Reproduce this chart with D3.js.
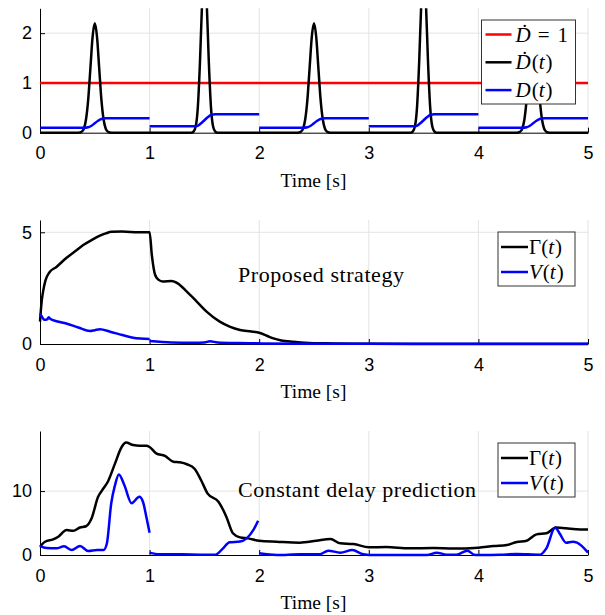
<!DOCTYPE html>
<html>
<head>
<meta charset="utf-8">
<script src="https://cdn.jsdelivr.net/npm/d3@7"></script>
<style>
body { margin: 0; background: #fff; }
.tick text { font-family: "Liberation Sans", Arial, sans-serif; font-size: 18px; fill: #000; }
.serif { font-family: "Liberation Serif", "Times New Roman", serif; fill: #000; }
</style>
</head>
<body>
<svg id="chart" width="605" height="615"></svg>
<script>
// tick values
var timeTicks = [0, 1, 2, 3, 4, 5];
var topYTicks = [0, 1, 2];
var midYTicks = [0, 5];
var botYTicks = [0, 10];

// top panel: constant rate, delay rate and delay
var dDotConst = [[0, 1], [5, 1]];
var dDot = [
  [0, 0], [0.35, 0], [0.38, 0.02], [0.40, 0.08], [0.42, 0.27], [0.44, 0.67], [0.46, 1.30], [0.48, 1.93],
  [0.50, 2.2], [0.52, 1.93], [0.54, 1.30], [0.56, 0.67], [0.58, 0.27], [0.60, 0.08], [0.62, 0.02], [0.65, 0],
  [1.38, 0], [1.40, 0.02], [1.42, 0.12], [1.44, 0.51], [1.46, 1.44], [1.48, 2.68],
  [1.50, 3.3], [1.52, 2.68], [1.54, 1.44], [1.56, 0.51], [1.58, 0.12], [1.60, 0.02], [1.62, 0],
  [2.35, 0], [2.38, 0.02], [2.40, 0.08], [2.42, 0.27], [2.44, 0.67], [2.46, 1.30], [2.48, 1.93],
  [2.50, 2.2], [2.52, 1.93], [2.54, 1.30], [2.56, 0.67], [2.58, 0.27], [2.60, 0.08], [2.62, 0.02], [2.65, 0],
  [3.38, 0], [3.40, 0.02], [3.42, 0.12], [3.44, 0.51], [3.46, 1.44], [3.48, 2.68],
  [3.50, 3.3], [3.52, 2.68], [3.54, 1.44], [3.56, 0.51], [3.58, 0.12], [3.60, 0.02], [3.62, 0],
  [4.35, 0], [4.38, 0.02], [4.40, 0.08], [4.42, 0.27], [4.44, 0.67], [4.46, 1.30], [4.48, 1.93],
  [4.50, 2.2], [4.52, 1.93], [4.54, 1.30], [4.56, 0.67], [4.58, 0.27], [4.60, 0.08], [4.62, 0.02], [4.65, 0],
  [5, 0]
];
var delaySegments = [
  [[0, 0.1], [0.4, 0.1], [0.44, 0.11], [0.47, 0.14], [0.5, 0.19], [0.53, 0.24], [0.56, 0.275], [0.6, 0.29], [1, 0.29]],
  [[1, 0.128], [1.4, 0.128], [1.44, 0.14], [1.47, 0.19], [1.5, 0.25], [1.53, 0.31], [1.56, 0.355], [1.6, 0.372], [2, 0.372]],
  [[2, 0.1], [2.4, 0.1], [2.44, 0.11], [2.47, 0.14], [2.5, 0.19], [2.53, 0.24], [2.56, 0.275], [2.6, 0.29], [3, 0.29]],
  [[3, 0.128], [3.4, 0.128], [3.44, 0.14], [3.47, 0.19], [3.5, 0.25], [3.53, 0.31], [3.56, 0.355], [3.6, 0.372], [4, 0.372]],
  [[4, 0.1], [4.4, 0.1], [4.44, 0.11], [4.47, 0.14], [4.5, 0.19], [4.53, 0.24], [4.56, 0.275], [4.6, 0.29], [5, 0.29]]
];

// middle panel: proposed strategy
var gammaProposed = [
  [0, 1.0], [0.015, 1.9], [0.03, 2.4], [0.05, 2.85], [0.085, 3.2], [0.15, 3.45], [0.24, 3.85], [0.32, 4.15],
  [0.395, 4.43], [0.47, 4.65], [0.547, 4.85], [0.6, 4.95], [0.654, 5.02], [0.75, 5.03], [0.9, 5.0], [1.0, 5.0],
  [1.02, 4.0], [1.05, 3.1], [1.08, 2.88], [1.12, 2.8], [1.2, 2.82], [1.26, 2.7], [1.34, 2.34], [1.43, 1.9],
  [1.52, 1.45], [1.64, 1.0], [1.73, 0.78], [1.825, 0.63], [1.93, 0.56], [2.0, 0.5], [2.07, 0.37], [2.13, 0.25],
  [2.2, 0.16], [2.31, 0.1], [2.45, 0.05], [2.6, 0.03], [3, 0.01], [4, 0], [5, 0]
];
var vProposed = [
  [[0, 1.37], [0.02, 1.2], [0.04, 1.08], [0.065, 1.1], [0.08, 1.2], [0.095, 1.12], [0.15, 1.02], [0.24, 0.92],
   [0.35, 0.74], [0.456, 0.58], [0.5, 0.62], [0.547, 0.66], [0.64, 0.55], [0.75, 0.4], [0.85, 0.28], [1.0, 0.22]],
  [[1.0, 0.13], [1.2, 0.07], [1.4, 0.06], [1.5, 0.07], [1.55, 0.12], [1.62, 0.07], [1.8, 0.04], [2.0, 0.03]],
  [[2.0, 0.02], [3, 0.01], [4, 0.01], [5, 0.01]]
];

// bottom panel: constant delay prediction
var gammaConstant = [
  [0, 1.3], [0.046, 2.08], [0.12, 2.45], [0.167, 2.86], [0.243, 3.9], [0.304, 3.8], [0.365, 4.3], [0.42, 4.5],
  [0.47, 5.7], [0.53, 9.1], [0.578, 10.4], [0.62, 11.5], [0.684, 14.3], [0.745, 16.9], [0.785, 17.6], [0.85, 17.2],
  [0.91, 17.1], [0.97, 17.1], [1.0, 16.9], [1.06, 15.9], [1.14, 15.5], [1.217, 14.6], [1.277, 14.5], [1.34, 14.2],
  [1.41, 13.5], [1.47, 11.7], [1.53, 9.6], [1.63, 8.3], [1.70, 6.0], [1.76, 3.4], [1.825, 2.76], [1.9, 2.6],
  [2.0, 2.23], [2.16, 2.08], [2.37, 1.93], [2.52, 2.23], [2.65, 2.5], [2.74, 1.82], [2.86, 1.72], [3.0, 1.2],
  [3.16, 1.25], [3.37, 1.04], [3.59, 1.1], [3.77, 1.0], [4.0, 1.15], [4.14, 1.4], [4.26, 1.56], [4.35, 2.03],
  [4.44, 2.23], [4.53, 3.23], [4.62, 3.4], [4.71, 4.3], [4.8, 4.17], [4.93, 4.0], [5.0, 4.0]
];
var vConstant = [
  [[0, 1.4], [0.06, 1.1], [0.15, 1.05], [0.22, 1.35], [0.29, 0.78], [0.365, 1.4], [0.44, 0.62], [0.52, 0.78],
   [0.58, 0.78], [0.61, 1.8], [0.65, 8.1], [0.684, 10.9], [0.72, 12.6], [0.77, 10.9], [0.836, 8.1], [0.906, 9.1],
   [0.94, 8.3], [0.97, 6.0], [1.0, 3.5]],
  [[1.0, 0.37], [1.09, 0.1], [1.3, 0.1], [1.46, 0.05], [1.6, 0.05], [1.67, 1.04], [1.73, 2.0], [1.825, 2.1],
   [1.885, 2.6], [1.95, 4.0], [1.99, 5.36]],
  [[2.0, 0.26], [2.16, 0.0], [2.37, 0.1], [2.55, 0.1], [2.63, 0.68], [2.74, 0.37], [2.85, 0.78], [2.94, 0.15], [3.0, 0.0]],
  [[3.0, 0], [3.53, 0], [3.62, 0.37], [3.71, 0.05], [3.8, 0.05], [3.9, 0.68], [3.96, 0.05], [4.0, 0]],
  [[4.0, 0], [4.2, 0.05], [4.35, 0.15], [4.56, 0.05], [4.62, 1.04], [4.7, 4.3], [4.74, 3.4], [4.8, 1.93],
   [4.86, 2.08], [4.9, 1.93], [5.0, 0.37]]
];

var svg = d3.select("#chart");
var x = d3.scaleLinear().domain([0, 5]).range([40, 588]);

function drawPanel(id, top, bottom, yMax, yTicks, series, legend) {
  var y = d3.scaleLinear().domain([0, yMax]).range([bottom, top]);
  var g = svg.append("g");

  // grid
  g.append("g").selectAll("line").data(timeTicks.slice(1)).enter().append("line")
    .attr("x1", function(d) { return x(d); }).attr("x2", function(d) { return x(d); })
    .attr("y1", bottom).attr("y2", top)
    .style("stroke", "#e3e3e3").style("stroke-width", 1);
  g.append("g").selectAll("line").data(yTicks.slice(1)).enter().append("line")
    .attr("x1", x(0)).attr("x2", x(5))
    .attr("y1", function(d) { return y(d); }).attr("y2", function(d) { return y(d); })
    .style("stroke", "#e3e3e3").style("stroke-width", 1);

  // axes
  g.append("g").attr("transform", "translate(0," + bottom + ")")
    .call(d3.axisBottom(x).tickValues(timeTicks).tickSize(-5).tickSizeOuter(0)
      .tickPadding(14).tickFormat(d3.format("d")));
  g.append("g").attr("transform", "translate(" + x(0) + ",0)")
    .call(d3.axisLeft(y).tickValues(yTicks).tickSize(-5).tickSizeOuter(0)
      .tickPadding(8).tickFormat(d3.format("d")));

  g.append("text").attr("class", "serif")
    .attr("x", 313.5).attr("y", bottom + 54)
    .attr("text-anchor", "middle").style("font-size", "19.5px")
    .text("Time [s]");

  // clip
  g.append("clipPath").attr("id", "clip" + id).append("rect")
    .attr("x", 36).attr("y", top).attr("width", 556).attr("height", bottom - top + 4);

  var line = d3.line()
    .curve(d3.curveMonotoneX)
    .x(function(d) { return x(d[0]); })
    .y(function(d) { return y(d[1]); });

  series.forEach(function(s) {
    g.append("g").attr("clip-path", "url(#clip" + id + ")")
      .selectAll("path").data(s.segments).enter().append("path")
      .attr("d", line)
      .style("fill", "none").style("stroke", s.color)
      .style("stroke-width", 2.5).style("stroke-linejoin", "round");
  });

  // legend
  var lg = g.append("g");
  lg.append("rect").attr("x", legend.x).attr("y", legend.y)
    .attr("width", legend.w).attr("height", legend.h)
    .style("fill", "#fff").style("stroke", "#333").style("stroke-width", 1);
  legend.rows.forEach(function(r, i) {
    var cy = legend.y + legend.first + i * legend.step;
    lg.append("line").attr("x1", legend.x + legend.lx0).attr("x2", legend.x + legend.lx1)
      .attr("y1", cy).attr("y2", cy)
      .style("stroke", r.color).style("stroke-width", 2.5);
    var t = lg.append("text").attr("class", "serif")
      .attr("x", legend.x + legend.tx).attr("y", cy + 7).style("font-size", "21px");
    r.parts.forEach(function(p) {
      t.append("tspan").attr("dx", p[2] || 0)
        .style("font-style", p[1] ? "italic" : "normal").text(p[0]);
    });
  });
  return g;
}

drawPanel("a", 8.3, 132.7, 2.5, topYTicks, [
  {color: "#ff0000", segments: [dDotConst]},
  {color: "#000000", segments: [dDot]},
  {color: "#0000ff", segments: delaySegments}
], {x: 481.5, y: 20, w: 94, h: 84, first: 14.5, step: 27.8, lx0: 4, lx1: 30, tx: 34,
  rows: [
    {color: "#ff0000", parts: [["\u1E0A", true], ["=", false, 7], ["1", false, 8]]},
    {color: "#000000", parts: [["\u1E0A", true], ["(", false, 1], ["t", true], [")", false, 1]]},
    {color: "#0000ff", parts: [["D", true], ["(", false, 1], ["t", true], [")", false, 1]]}
  ]});

var mid = drawPanel("b", 220, 344, 5.55, midYTicks, [
  {color: "#000000", segments: [gammaProposed]},
  {color: "#0000ff", segments: vProposed}
], {x: 498, y: 232, w: 77, h: 54, first: 15, step: 25, lx0: 3, lx1: 30, tx: 31,
  rows: [
    {color: "#000000", parts: [["\u0393(", false], ["t", true], [")", false, 1]]},
    {color: "#0000ff", parts: [["V", true], ["(", false, 1], ["t", true], [")", false, 1]]}
  ]});
mid.append("text").attr("class", "serif").attr("x", 238).attr("y", 282)
  .style("font-size", "22px").attr("textLength", 166).attr("lengthAdjust", "spacing")
  .text("Proposed strategy");

var bot = drawPanel("c", 431, 555, 19.4, botYTicks, [
  {color: "#000000", segments: [gammaConstant]},
  {color: "#0000ff", segments: vConstant}
], {x: 498, y: 443, w: 77, h: 54, first: 15, step: 25, lx0: 3, lx1: 30, tx: 31,
  rows: [
    {color: "#000000", parts: [["\u0393(", false], ["t", true], [")", false, 1]]},
    {color: "#0000ff", parts: [["V", true], ["(", false, 1], ["t", true], [")", false, 1]]}
  ]});
bot.append("text").attr("class", "serif").attr("x", 238).attr("y", 497)
  .style("font-size", "22px").attr("textLength", 238).attr("lengthAdjust", "spacing")
  .text("Constant delay prediction");
</script>
</body>
</html>
